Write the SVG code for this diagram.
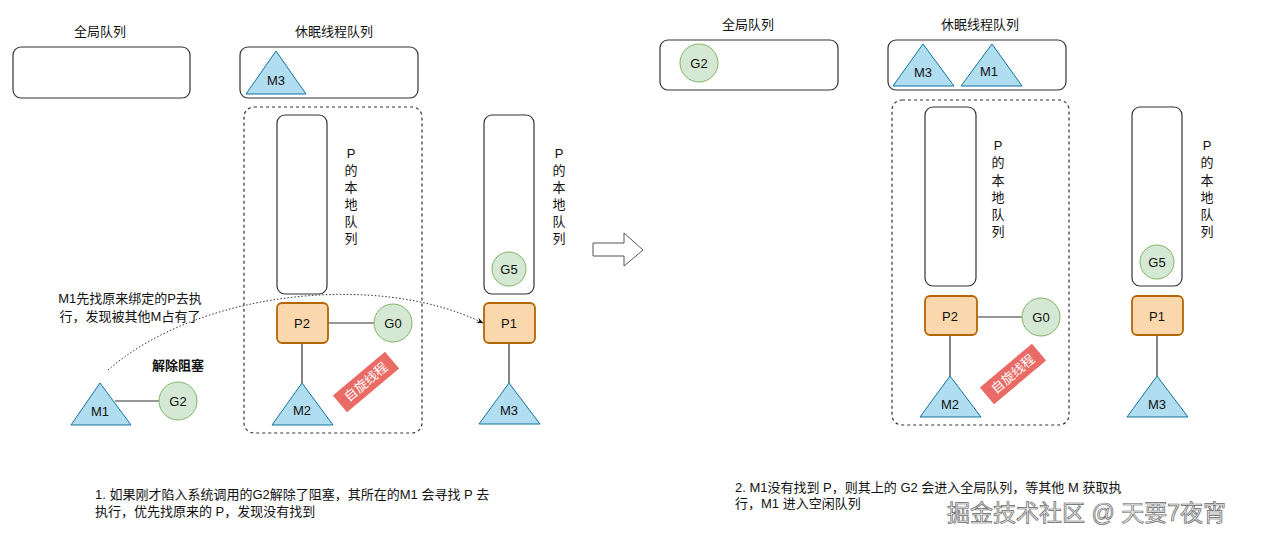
<svg xmlns="http://www.w3.org/2000/svg" width="1280" height="540" viewBox="0 0 1280 540">
<defs>
<style>
text{font-family:"Liberation Sans","Noto Sans CJK SC",sans-serif;font-size:13px;fill:#111;}
.c{text-anchor:middle;dominant-baseline:central;}
.q{fill:#fff;stroke:#333;stroke-width:1.2;}
.dash{fill:none;stroke:#333;stroke-width:1.2;stroke-dasharray:3 3;}
.p{fill:#fad7ac;stroke:#b46504;stroke-width:1.8;}
.g{fill:#d5e8d4;stroke:#82b366;stroke-width:1;}
.m{fill:#b1ddf0;stroke:#10739e;stroke-width:1;}
.ln{stroke:#333;stroke-width:1.2;fill:none;}
.tag{fill:#ea6b66;}
.tagt{fill:#fff;font-size:13px;}
.b{font-weight:bold;}
</style>
<marker id="ah" viewBox="0 0 10 10" refX="9" refY="5" markerWidth="7" markerHeight="7" orient="auto">
<path d="M0,1 L10,5 L0,9 L3,5 z" fill="#111"/>
</marker>
</defs>
<rect width="1280" height="540" fill="#fff"/>

<!-- connectors -->
<g id="connectors">
<line class="ln" x1="328" y1="323" x2="374" y2="323"/>
<line class="ln" x1="302" y1="343" x2="302" y2="383"/>
<line class="ln" x1="509" y1="343" x2="509" y2="383"/>
<line class="ln" x1="115" y1="401" x2="159" y2="401"/>
<path d="M108,370 C200,290 380,272 483,323" fill="none" stroke="#333" stroke-width="1" stroke-dasharray="1.5 2" marker-end="url(#ah)"/>
<line class="ln" x1="978" y1="317" x2="1022" y2="317"/>
<line class="ln" x1="950" y1="335" x2="950" y2="376"/>
<line class="ln" x1="1157" y1="335" x2="1157" y2="376"/>
</g>

<!-- LEFT PANEL -->
<g id="left-global-queue">
<text class="c" x="100" y="31">全局队列</text>
<rect class="q" x="13" y="47" width="177" height="51" rx="8"/>
</g>
<g id="left-sleep-queue">
<text class="c" x="334" y="31">休眠线程队列</text>
<rect class="q" x="240" y="47" width="178" height="51" rx="8"/>
</g>
<g id="left-m3-sleep">
<polygon class="m" points="276,51 246,94 306,94"/>
<text class="c" x="276" y="80">M3</text>
</g>
<g id="left-spin-group">
<rect class="dash" x="244" y="107" width="178" height="326" rx="10"/>
</g>
<g id="left-p2-local-queue">
<rect class="q" x="277" y="115" width="50" height="179" rx="8"/>
<text class="c" x="351" y="153">P</text>
<text class="c" x="351" y="170">的</text>
<text class="c" x="351" y="187">本</text>
<text class="c" x="351" y="204">地</text>
<text class="c" x="351" y="221">队</text>
<text class="c" x="351" y="238">列</text>
</g>
<g id="left-p2">
<rect class="p" x="277" y="303" width="51" height="40" rx="5"/>
<text class="c" x="302" y="323">P2</text>
</g>
<g id="left-g0">
<circle class="g" cx="393" cy="323" r="19"/>
<text class="c" x="393" y="323">G0</text>
</g>
<g id="left-m2">
<polygon class="m" points="302,383 272,425 333,425"/>
<text class="c" x="302" y="410">M2</text>
</g>
<g id="left-spin-tag" transform="translate(366,382) rotate(-40)">
<rect class="tag" x="-34" y="-11" width="68" height="22"/>
<text class="c tagt" x="0" y="0">自旋线程</text>
</g>
<g id="left-p1-local-queue">
<rect class="q" x="484" y="115" width="50" height="179" rx="8"/>
<text class="c" x="559" y="153">P</text>
<text class="c" x="559" y="170">的</text>
<text class="c" x="559" y="187">本</text>
<text class="c" x="559" y="204">地</text>
<text class="c" x="559" y="221">队</text>
<text class="c" x="559" y="238">列</text>
</g>
<g id="left-g5">
<circle class="g" cx="509" cy="269" r="17"/>
<text class="c" x="509" y="269">G5</text>
</g>
<g id="left-p1">
<rect class="p" x="484" y="303" width="51" height="40" rx="5"/>
<text class="c" x="509" y="323">P1</text>
</g>
<g id="left-m3">
<polygon class="m" points="509,383 479,424 540,424"/>
<text class="c" x="509" y="410">M3</text>
</g>
<g id="left-m1">
<polygon class="m" points="100,383 71,425 131,425"/>
<text class="c" x="100" y="411">M1</text>
</g>
<g id="left-g2">
<circle class="g" cx="178" cy="401" r="19"/>
<text class="c" x="178" y="401">G2</text>
</g>
<g id="left-notes">
<text class="c b" x="178" y="365">解除阻塞</text>
<text class="c" x="130" y="298">M1先找原来绑定的P去执</text>
<text class="c" x="130" y="316">行，发现被其他M占有了</text>
</g>

<!-- transition arrow -->
<g id="transition-arrow">
<polygon points="593,243 624,243 624,233 643,250 624,266 624,256 593,256" fill="#fff" stroke="#555" stroke-width="1"/>
</g>

<!-- RIGHT PANEL -->
<g id="right-global-queue">
<text class="c" x="748" y="24">全局队列</text>
<rect class="q" x="660" y="40" width="178" height="50" rx="8"/>
</g>
<g id="right-g2">
<circle class="g" cx="699" cy="63" r="19"/>
<text class="c" x="699" y="63">G2</text>
</g>
<g id="right-sleep-queue">
<text class="c" x="980" y="24">休眠线程队列</text>
<rect class="q" x="888" y="40" width="178" height="50" rx="8"/>
</g>
<g id="right-m3-sleep">
<polygon class="m" points="923,44 893,86 954,86"/>
<text class="c" x="923" y="72">M3</text>
</g>
<g id="right-m1-sleep">
<polygon class="m" points="992,44 961,86 1022,86"/>
<text class="c" x="989" y="71">M1</text>
</g>
<g id="right-spin-group">
<rect class="dash" x="892" y="100" width="177" height="325" rx="10"/>
</g>
<g id="right-p2-local-queue">
<rect class="q" x="925" y="107" width="51" height="179" rx="8"/>
<text class="c" x="998" y="145">P</text>
<text class="c" x="998" y="162">的</text>
<text class="c" x="998" y="180">本</text>
<text class="c" x="998" y="197">地</text>
<text class="c" x="998" y="214">队</text>
<text class="c" x="998" y="231">列</text>
</g>
<g id="right-p2">
<rect class="p" x="925" y="296" width="52" height="39" rx="5"/>
<text class="c" x="950" y="316">P2</text>
</g>
<g id="right-g0">
<circle class="g" cx="1041" cy="317" r="19"/>
<text class="c" x="1041" y="317">G0</text>
</g>
<g id="right-m2">
<polygon class="m" points="950,376 920,417 981,417"/>
<text class="c" x="950" y="404">M2</text>
</g>
<g id="right-spin-tag" transform="translate(1013,374) rotate(-40)">
<rect class="tag" x="-34" y="-11" width="68" height="22"/>
<text class="c tagt" x="0" y="0">自旋线程</text>
</g>
<g id="right-p1-local-queue">
<rect class="q" x="1132" y="107" width="50" height="179" rx="8"/>
<text class="c" x="1207" y="145">P</text>
<text class="c" x="1207" y="162">的</text>
<text class="c" x="1207" y="180">本</text>
<text class="c" x="1207" y="197">地</text>
<text class="c" x="1207" y="214">队</text>
<text class="c" x="1207" y="231">列</text>
</g>
<g id="right-g5">
<circle class="g" cx="1157" cy="262" r="17"/>
<text class="c" x="1157" y="262">G5</text>
</g>
<g id="right-p1">
<rect class="p" x="1132" y="296" width="51" height="39" rx="5"/>
<text class="c" x="1157" y="316">P1</text>
</g>
<g id="right-m3">
<polygon class="m" points="1157,376 1127,417 1188,417"/>
<text class="c" x="1157" y="404">M3</text>
</g>

<!-- captions -->
<g id="caption-1">
<text x="95" y="499">1. 如果刚才陷入系统调用的G2解除了阻塞，其所在的M1 会寻找 P 去</text>
<text x="95" y="516">执行，优先找原来的 P，发现没有找到</text>
</g>
<g id="caption-2">
<text x="735" y="492">2. M1没有找到 P，则其上的 G2 会进入全局队列，等其他 M 获取执</text>
<text x="735" y="508">行，M1 进入空闲队列</text>
</g>
<g id="watermark">
<text x="947" y="521" style="font-size:23px;fill:#eeeeee;stroke:#666;stroke-width:0.7;">掘金技术社区 @ 天要7夜宵</text>
</g>
</svg>
